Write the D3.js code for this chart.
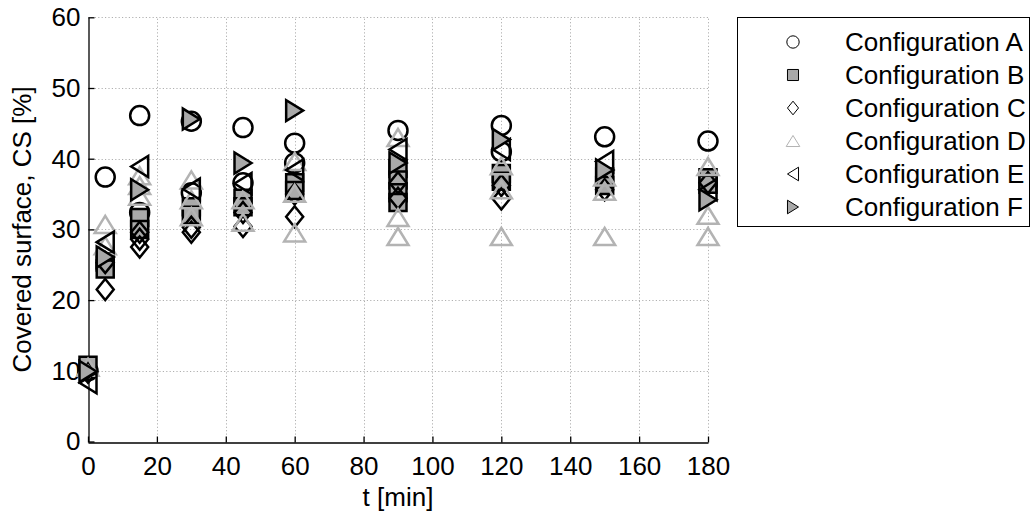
<!DOCTYPE html>
<html><head><meta charset="utf-8">
<script src="https://cdn.jsdelivr.net/npm/d3@7"></script>
<style>
body{margin:0;background:#fff}
svg{display:block}
text{font-family:"Liberation Sans",Arial,Helvetica,sans-serif;fill:#000}
</style>
</head><body>
<svg id="chart" width="1034" height="517"></svg>
<script>
// ---- data ----
const times = [0, 5, 15, 30, 45, 60, 90, 120, 150, 180];
const xTickValues = [0, 20, 40, 60, 80, 100, 120, 140, 160, 180];
const yTickValues = [0, 10, 20, 30, 40, 50, 60];
const seriesNames = ["Configuration A", "Configuration B", "Configuration C", "Configuration D", "Configuration E", "Configuration F"];

// values per time point (several measurements per time)
const configA = [[10.0], [37.4], [46.1, 32.4], [45.3, 35.2], [44.4, 36.6], [42.2, 39.4], [44.0], [44.7, 41.0], [43.1], [42.5]];
const configB = [[10.8], [25.4, 24.4], [31.7, 30.0], [33.2, 32.0], [34.4, 33.2], [36.6, 35.5], [38.6, 37.0, 35.2, 33.8], [37.9, 36.8], [37.4, 36.2], [37.3, 36.4]];
const configC = [[9.8], [25.3, 21.5], [29.6, 28.6, 27.5], [30.3, 29.6], [32.4, 30.4], [35.0, 31.8], [36.6, 34.4], [36.2, 34.3], [35.6], [36.6]];
const configD = [[10.5], [30.7, 27.7], [37.6, 36.2, 34.7], [37.0, 34.2, 31.8], [34.2, 31.0], [39.6, 35.1, 29.5], [43.0, 31.7, 29.0], [39.0, 35.6, 29.0], [37.4, 35.4, 29.0], [38.9, 32.0, 29.0]];
const configE = [[8.3], [28.2], [38.9], [35.7], [36.5], [38.4], [41.3], [41.3], [39.6], [35.6]];
const configF = [[9.9], [26.1], [35.6], [45.6], [39.4], [46.8], [39.4], [42.7], [38.4], [34.2]];
const seriesValues = [configA, configB, configC, configD, configE, configF];

// ---- styles ----
const GRAY = "#a9a9a9";
const LIGHT = "#b3b3b3";
const styles = [
  {shape: "circle",  fill: "none", stroke: "#000"},
  {shape: "square",  fill: GRAY,   stroke: "#000"},
  {shape: "diamond", fill: "none", stroke: "#000"},
  {shape: "triUp",   fill: "none", stroke: LIGHT},
  {shape: "triLeft", fill: "none", stroke: "#000"},
  {shape: "triRight",fill: GRAY,   stroke: "#000"}
];
function shapePath(shape, k) {
  const a = 8.5 * k, b = 10.5 * k, r = 9.5 * k;
  switch (shape) {
    case "circle": return `M${r},0A${r},${r} 0 1,1 ${-r},0A${r},${r} 0 1,1 ${r},0Z`;
    case "square": return `M${-a},${-a}L${a},${-a}L${a},${a}L${-a},${a}Z`;
    case "diamond": return `M0,${-b}L${a},0L0,${b}L${-a},0Z`;
    case "triUp": return `M0,${-a}L${b},${a}L${-b},${a}Z`;
    case "triLeft": return `M${-a},0L${a},${-b}L${a},${b}Z`;
    case "triRight": return `M${a},0L${-a},${-b}L${-a},${b}Z`;
  }
}

const svg = d3.select("#chart");
const x = d3.scaleLinear().domain([0, 180]).range([88, 708]);
const y = d3.scaleLinear().domain([0, 60]).range([441.5, 17.3]);

// grid
const grid = svg.append("g").attr("stroke", "#b0b0b0").attr("stroke-width", 1).attr("stroke-dasharray", "1.2,2.2");
grid.selectAll(".gx").data(xTickValues.filter(d => d > 0)).join("line")
  .attr("x1", d => Math.round(x(d)) + 0.5).attr("x2", d => Math.round(x(d)) + 0.5)
  .attr("y1", y(0)).attr("y2", y(60));
grid.selectAll(".gy").data(yTickValues.filter(d => d > 0)).join("line")
  .attr("y1", d => Math.round(y(d)) + 0.5).attr("y2", d => Math.round(y(d)) + 0.5)
  .attr("x1", x(0)).attr("x2", x(180));

// axes
const xAxis = svg.append("g").attr("transform", `translate(0,${Math.round(y(0)) + 0.5})`)
  .call(d3.axisBottom(x).tickValues(xTickValues).tickSizeInner(-6).tickSizeOuter(0).tickPadding(14));
const yAxis = svg.append("g").attr("transform", `translate(${Math.round(x(0)) + 0.5},0)`)
  .call(d3.axisLeft(y).tickValues(yTickValues).tickSizeInner(-6).tickSizeOuter(0).tickPadding(8));
[xAxis, yAxis].forEach(g => {
  g.select(".domain").attr("stroke", "#000").attr("stroke-width", 1.3);
  g.selectAll(".tick line").attr("stroke", "#000").attr("stroke-width", 1.3);
  g.selectAll(".tick text").style("font-size", "26px").attr("fill", "#000")
    .style("font-family", '"Liberation Sans",Arial,sans-serif');
});

// points
seriesValues.forEach((vals, si) => {
  const pts = [];
  vals.forEach((arr, ti) => arr.forEach(v => pts.push({t: times[ti], v})));
  const st = styles[si];
  svg.append("g").selectAll("path").data(pts).join("path")
    .attr("transform", d => `translate(${x(d.t)},${y(d.v)})`)
    .attr("d", shapePath(st.shape, 1))
    .attr("fill", st.fill).attr("stroke", st.stroke).attr("stroke-width", 2.5)
    .attr("stroke-linejoin", "miter");
});

// axis labels
svg.append("text").attr("x", x(90)).attr("y", 506).attr("text-anchor", "middle")
  .style("font-size", "26px").text("t [min]");
svg.append("text").attr("transform", `translate(31,${y(30)}) rotate(-90)`).attr("text-anchor", "middle")
  .style("font-size", "26px").text("Covered surface, CS [%]");

// legend
const lg = svg.append("g");
lg.append("rect").attr("x", 737.5).attr("y", 17.5).attr("width", 292).attr("height", 209)
  .attr("fill", "#fff").attr("stroke", "#000").attr("stroke-width", 1);
seriesNames.forEach((name, i) => {
  const cy = 42 + i * 33;
  const st = styles[i];
  lg.append("path").attr("transform", `translate(793,${cy})`).attr("d", shapePath(st.shape, 0.65))
    .attr("fill", st.fill).attr("stroke", st.stroke).attr("stroke-width", 1);
  lg.append("text").attr("x", 845).attr("y", cy + 9).style("font-size", "26px").text(name);
});
</script>
</body></html>
